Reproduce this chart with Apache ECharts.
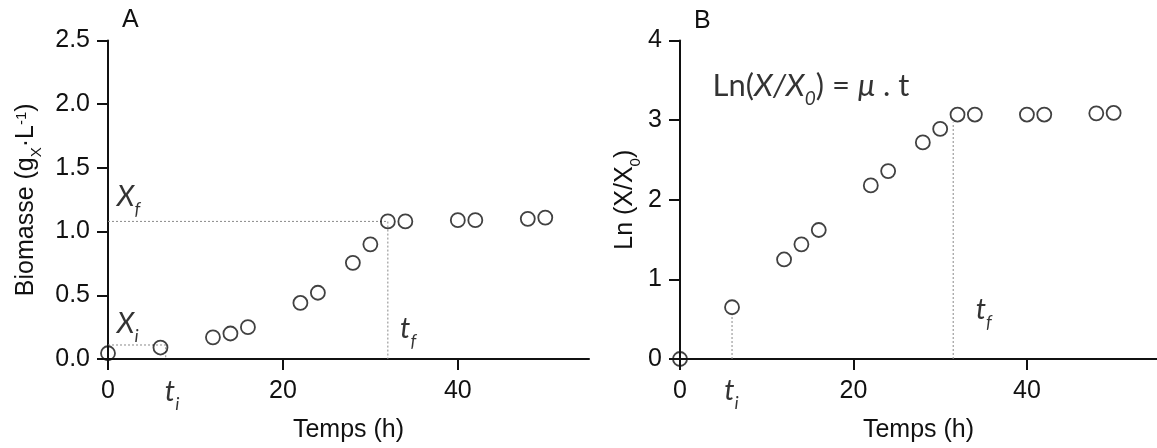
<!DOCTYPE html>
<html><head><meta charset="utf-8">
<script src="https://cdn.jsdelivr.net/npm/echarts@6/dist/echarts.min.js"></script>
<style>html,body{margin:0;padding:0;background:#fff}#c{width:1157px;height:448px}</style>
</head><body><div id="c"></div>
<script>
// ---- data ----
const timeH   = [0, 6, 12, 14, 16, 22, 24, 28, 30, 32, 34, 40, 42, 48, 50];
const biomass = [0.045, 0.09, 0.17, 0.20, 0.25, 0.44, 0.52, 0.755, 0.90, 1.08, 1.08, 1.09, 1.09, 1.10, 1.11];
const lnRatio = [0, 0.65, 1.25, 1.44, 1.62, 2.18, 2.36, 2.72, 2.89, 3.07, 3.07, 3.07, 3.07, 3.085, 3.09];
const xTickValues = [0, 20, 40];
// guide (dotted) lines
const guideXfT = [0, 32, 32],   guideXfY = [1.08, 1.08, 0];
const guideXiT = [0, 6.6, 6.6], guideXiY = [0.11, 0.11, 0];
const guideTiT = [6, 6],        guideTiY = [0, 0.55];
const guideTfT = [31.5, 31.5],  guideTfY = [0, 2.97];

const INK = '#111';
const NOTE_INK = '#000';
const AX_FONT = 'Liberation Sans, Arial, sans-serif';
const NOTE_FONT = 'Lato, sans-serif';
const zip = (a, b) => a.map((v, i) => [v, b[i]]);

function xAxis(gi) {
  return {
    gridIndex: gi, type: 'value', min: 0, max: 55,
    axisLine: { onZero: false, lineStyle: { color: INK, width: 2 } },
    axisTick: { show: true, length: 11, lineStyle: { color: INK, width: 2 }, customValues: xTickValues },
    axisLabel: { customValues: xTickValues, margin: 20, fontFamily: AX_FONT, fontSize: 25, color: INK },
    splitLine: { show: false },
    name: 'Temps (h)', nameLocation: 'middle', nameGap: 59,
    nameTextStyle: { fontFamily: AX_FONT, fontSize: 25, color: INK }
  };
}
function yAxis(gi, max, interval, fmt, name, nameGap, rich) {
  return {
    gridIndex: gi, type: 'value', min: 0, max: max, interval: interval,
    axisLine: { onZero: false, lineStyle: { color: INK, width: 2 } },
    axisTick: { show: true, length: 11, lineStyle: { color: INK, width: 2 } },
    axisLabel: { margin: 18, fontFamily: AX_FONT, fontSize: 25, color: INK, formatter: fmt },
    splitLine: { show: false },
    name: name, nameLocation: 'middle', nameGap: nameGap,
    nameTextStyle: { fontFamily: AX_FONT, fontSize: 25, color: INK, rich: rich }
  };
}
const axisRich = {
  n: { fontFamily: AX_FONT, fontSize: 25, color: INK, lineHeight: 28, verticalAlign: 'top' },
  s: { fontFamily: AX_FONT, fontSize: 15, color: INK, lineHeight: 15, padding: [15, 0, 0, 0], verticalAlign: 'top' },
  p: { fontFamily: AX_FONT, fontSize: 15, color: INK, lineHeight: 15, padding: [0, 0, 0, 0], verticalAlign: 'top' }
};
const noteRich = {
  i: { fontFamily: NOTE_FONT, fontStyle: 'italic', fontSize: 29, color: NOTE_INK, lineHeight: 32, verticalAlign: 'top' },
  s: { fontFamily: NOTE_FONT, fontStyle: 'italic', fontSize: 18, color: NOTE_INK, lineHeight: 18, padding: [18, 0, 0, 0], verticalAlign: 'top' },
  n: { fontFamily: NOTE_FONT, fontSize: 31, color: NOTE_INK, lineHeight: 34, verticalAlign: 'top' },
  e: { fontFamily: NOTE_FONT, fontStyle: 'italic', fontSize: 31, color: NOTE_INK, lineHeight: 34, verticalAlign: 'top' },
  z: { fontFamily: NOTE_FONT, fontStyle: 'italic', fontSize: 19, color: NOTE_INK, lineHeight: 19, padding: [19, 0, 0, 0], verticalAlign: 'top' }
};

function points(gi, ys) {
  return {
    type: 'scatter', xAxisIndex: gi, yAxisIndex: gi, data: zip(timeH, ys),
    symbol: 'circle', symbolSize: 14, clip: false, z: 5,
    itemStyle: { color: 'rgba(0,0,0,0)', borderColor: INK, borderWidth: 1.8 }
  };
}
function guide(gi, xs, ys) {
  return {
    type: 'line', xAxisIndex: gi, yAxisIndex: gi, data: zip(xs, ys), symbol: 'none',
    silent: true, z: 1, lineStyle: { type: [2, 2], color: '#8a8a8a', width: 1 }
  };
}
function note(gi, x, y, text) {
  return {
    type: 'scatter', xAxisIndex: gi, yAxisIndex: gi, data: [[x, y]], symbolSize: 0,
    clip: false, silent: true, z: 6,
    label: { show: true, position: [0, 0], align: 'left', verticalAlign: 'top',
      formatter: text, rich: noteRich }
  };
}

const panelTitleStyle = { fontFamily: AX_FONT, fontSize: 25, fontWeight: 'normal', color: INK };
const option = {
  animation: false,
  backgroundColor: '#fff',
  title: [
    { text: 'A', left: 122, top: 8, padding: 0, textStyle: panelTitleStyle },
    { text: 'B', left: 694, top: 9, padding: 0, textStyle: panelTitleStyle }
  ],
  grid: [
    { left: 108, top: 40.5, width: 481, height: 320 },
    { left: 680, top: 40.5, width: 484, height: 320 }
  ],
  xAxis: [xAxis(0), xAxis(1)],
  yAxis: [
    yAxis(0, 2.5, 0.5, v => v.toFixed(1), '{n|Biomasse (g}{s|X}{n|·L}{p|-1}{n|)}', 66, axisRich),
    yAxis(1, 4, 1, v => String(v), '{n|Ln (X/X}{s|0}{n|)}', 39, axisRich)
  ],
  series: [
    guide(0, guideXfT, guideXfY),
    guide(0, guideXiT, guideXiY),
    guide(1, guideTiT, guideTiY),
    guide(1, guideTfT, guideTfY),
    points(0, biomass),
    points(1, lnRatio),
    note(0, 1.0, 1.39, '{i|X}{s|f}'),
    note(0, 1.0, 0.39, '{i|X}{s|i}'),
    note(0, 6.5, -0.14, '{i|t}{s|i}'),
    note(0, 33.4, 0.35, '{i|t}{s|f}'),
    note(1, 5.1, -0.21, '{i|t}{s|i}'),
    note(1, 34.1, 0.80, '{i|t}{s|f}'),
    note(1, 3.75, 3.62, '{n|Ln(}{e|X/X}{z|0}{n|) = }{e|μ}{n| . t}')
  ]
};
const chart = echarts.init(document.getElementById('c'), null, { renderer: 'canvas' });
chart.setOption(option);
</script>
</body></html>
